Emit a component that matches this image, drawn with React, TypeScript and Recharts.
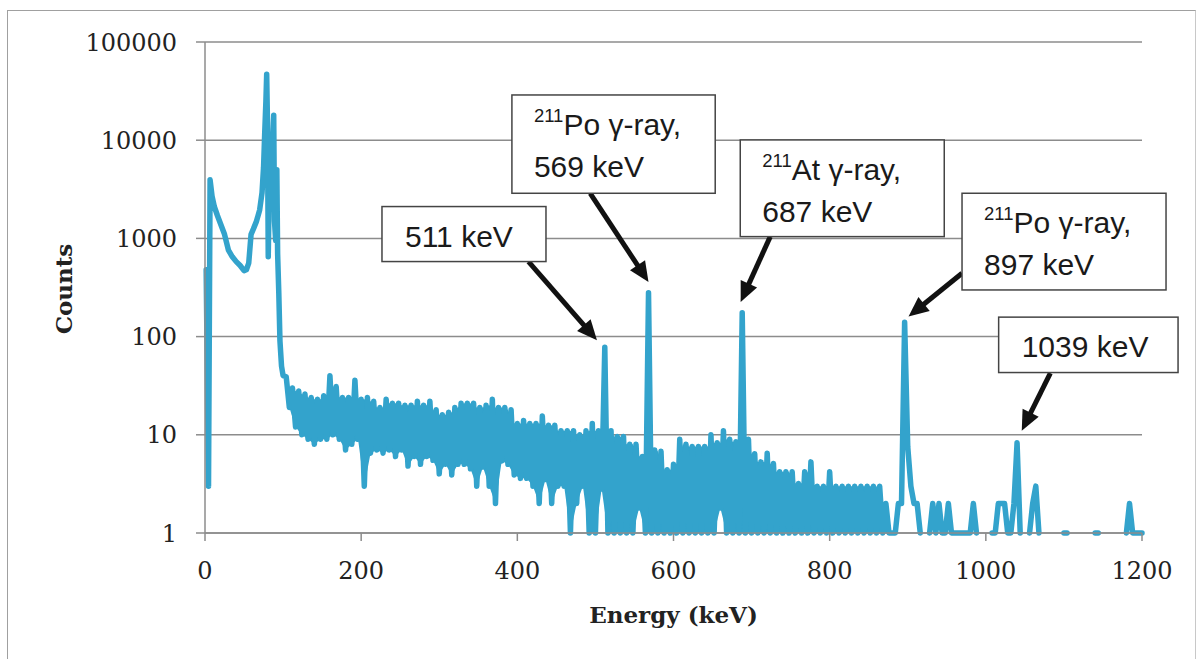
import { ComposedChart, Line, Area, XAxis, YAxis, CartesianGrid, ReferenceDot } from 'recharts';

// 0-100 keV: read point by point (irregular spacing around the x-ray peaks)
const lowEnergy = [1.5, 4.5, 6.5, 9, 12, 16, 20, 25, 30, 35, 40, 45, 50, 53, 56, 59, 62, 66, 70, 73, 75, 76.5, 78, 79, 80, 81, 82, 83.5, 85, 86.5, 88, 89, 90.5, 92, 93, 94.5, 96, 98, 100];
const lowCounts = [480, 3, 3950, 2700, 2100, 1700, 1400, 1100, 760, 650, 580, 530, 470, 480, 560, 1100, 1250, 1500, 1950, 2900, 5300, 12000, 25000, 47000, 15000, 650, 2300, 8000, 3000, 9000, 18000, 1500, 950, 5000, 700, 280, 90, 50, 40];

// 104-1200 keV, one value per 4 keV channel (null = empty channel)
const channelStart = 104;
const channelWidth = 4;
const counts104 = [39, 19, 30, 12, 28, 10, 26, 9, 24, 8, 23, 9, 25, 9, 40, 10, 31, 9, 24, 7, 24, 8, 36, 9, 23];
const counts204 = [3, 24, 6.5, 22, 7, 19, 6.5, 23, 7, 21, 6, 21, 7, 20, 4.8, 20, 6, 22, 5, 20, 6, 22, 5.5, 18, 4];
const counts304 = [16, 5, 17, 3.9, 19, 5, 21, 5, 21, 4.5, 21, 3, 19, 4.7, 20, 3, 23, 2, 19, 5.4, 19, 5, 18, 3.9, 13];
const counts404 = [3.6, 14, 3.6, 13, 3, 13, 2, 15.5, 3.5, 12.5, 2, 12.5, 3, 11, 3, 11, 1, 11, 2, 10, 3, 11, 1, 13, 1];
const counts504 = [11, 2.8, 78, 1, 11, 1, 9.6, 1, 9.6, 1, 8, 1, 8, 1.8, 6, 1, 280, 1, 7, 1, 6.8, 1, 4.4, 1, 5];
const counts604 = [1, 9, 1, 8, 1, 7.6, 1, 7.6, 1, 7.6, 1, 10, 1, 8.3, 1.8, 11, 1, 9, 1, 8.5, 1, 175, 1, 9, 1];
const counts704 = [6.4, 1, 5.3, 1, 6.5, 1, 5.1, 1, 4.2, 1, 4.2, 1, 4.2, 1, 3.2, 1, 4.2, 1, 5.3, 1, 3, 1, 3, 1, 4.2];
const counts804 = [1, 3, 1, 3, 1, 3, 1, 3, 1, 3, 1, 3, 1, 3, 1, 3, 1, 2, 1, 1, 1, 2, 2, 140, 7.5];
const counts904 = [3, 2, 2, 1, null, null, 1, 2, 1, 2, 1, 1, 2, 1, 1, 1, 1, 1, 1, 1, 2, 1, null, null, null];
const counts1004 = [null, 1, 1, 2, 2, 2, 1, 1, 2, 8.3, 1, null, null, 1, 2, 3, 1, null, null, null, null, null, null, null, 1];
const counts1104 = [1, null, null, null, null, null, null, null, null, 1, 1, null, null, null, null, null, null, null, null, 1, 2, 1, 1, 1, 1];

const xTicks = [0, 200, 400, 600, 800, 1000, 1200];
const yTicks = [1, 10, 100, 1000, 10000, 100000];

// callouts: arrow tip in data units + label text
const calloutEnergy = [502, 568, 686, 901, 1046];
const calloutCounts = [92, 360, 225, 160, 11];
const calloutSup = ['', '211', '211', '211', ''];
const calloutLine1 = ['511 keV', 'Po γ-ray,', 'At γ-ray,', 'Po γ-ray,', '1039 keV'];
const calloutLine2 = ['', '569 keV', '687 keV', '897 keV', ''];

// box [dx, dy, w, h] and arrow tail [dx, dy], pixels from the arrow tip
const calloutBox = [
  [-215, -133.6, 164, 55],
  [-136.6, -187, 203.3, 98.3],
  [-0.4, -162.1, 204, 96.7],
  [53.5, -123.3, 204, 96.7],
  [-23.1, -113.6, 179.4, 55.4],
];
const calloutTail = [
  [-68.5, -78.6],
  [-58.3, -88.7],
  [29.6, -65.4],
  [53.5, -43.3],
  [28.6, -57.6],
];

const channelCounts = [
  ...counts104, ...counts204, ...counts304, ...counts404, ...counts504,
  ...counts604, ...counts704, ...counts804, ...counts904, ...counts1004, ...counts1104,
];

// solid noise band under the trace: each low channel up to the lower of its two neighbours
const bandOf = (i: number) => {
  const e = channelStart + channelWidth * i;
  const c = channelCounts[i];
  if (i % 2 === 0 || e > 896 || c == null) return undefined;
  const prev = channelCounts[i - 1];
  const next = channelCounts[i + 1];
  if (prev == null || next == null) return undefined;
  return [c, Math.max(c, Math.min(prev, next))];
};

const spectrum = [
  ...lowEnergy.map((e, i) => ({ energy: e, counts: lowCounts[i] })),
  ...channelCounts.map((c, i) => ({ energy: channelStart + channelWidth * i, counts: c, band: bandOf(i) })),
];

const GRID = '#8c8c8c';
const TRACE = '#33a3cc';
const SERIF = 'DejaVu Serif';
const SANS = 'Liberation Sans, Arial, sans-serif';

function Arrow({ x1, y1, x2, y2 }: { x1: number; y1: number; x2: number; y2: number }) {
  const len = Math.hypot(x2 - x1, y2 - y1);
  const ux = (x2 - x1) / len;
  const uy = (y2 - y1) / len;
  const head = 20;
  const half = 9;
  const bx = x2 - ux * head;
  const by = y2 - uy * head;
  return (
    <g>
      <line x1={x1} y1={y1} x2={bx + ux * 2} y2={by + uy * 2} stroke="#111" strokeWidth={5} />
      <polygon
        points={`${x2},${y2} ${bx - uy * half},${by + ux * half} ${bx + uy * half},${by - ux * half}`}
        fill="#111"
      />
    </g>
  );
}

function Callout({ cx, cy, i }: { cx: number; cy: number; i: number }) {
  const [dx, dy, w, h] = calloutBox[i];
  const [tx, ty] = calloutTail[i];
  const left = cx + dx;
  const top = cy + dy;
  const twoLines = calloutLine2[i] !== '';
  return (
    <g>
      <Arrow x1={cx + tx} y1={cy + ty} x2={cx} y2={cy} />
      <rect x={left} y={top} width={w} height={h} fill="#fff" stroke="#444" strokeWidth={1.5} />
      <text x={left + (twoLines ? 22 : 23)} y={top + 40} fontFamily={SANS} fontSize={30} fill="#1a1a1a">
        {calloutSup[i] ? (
          <>
            <tspan fontSize={18.5} dy={-13.3}>{calloutSup[i]}</tspan>
            <tspan dy={13.3}>{calloutLine1[i]}</tspan>
          </>
        ) : (
          calloutLine1[i]
        )}
      </text>
      {twoLines && (
        <text x={left + 22} y={top + 82} fontFamily={SANS} fontSize={30} fill="#1a1a1a">
          {calloutLine2[i]}
        </text>
      )}
    </g>
  );
}

function XTitle(props: any) {
  const { x, y, width, height } = props.viewBox;
  return (
    <text x={x + width / 2} y={y + height + 30} textAnchor="middle" fontFamily={SERIF} fontWeight="bold" fontSize={23} fill="#222">
      Energy (keV)
    </text>
  );
}

function YTitle(props: any) {
  const { x, y, height } = props.viewBox;
  const tx = x + 72;
  const ty = y + height / 2 + 1.5;
  return (
    <text x={tx} y={ty} transform={`rotate(-90, ${tx}, ${ty})`} textAnchor="middle" fontFamily={SERIF} fontWeight="bold" fontSize={23} fill="#222">
      Counts
    </text>
  );
}

export default function App() {
  return (
    <div style={{ position: 'fixed', left: 0, top: 0, width: 1201, height: 659, overflow: 'hidden', background: '#fff' }}>
      <div
        style={{
          position: 'absolute', left: 7, top: 10, width: 1189, height: 649, boxSizing: 'border-box',
          borderTop: '1.5px solid #a0a0a0', borderLeft: '1.5px solid #a0a0a0', borderRight: '1.5px solid #c8c8c8',
        }}
      />
      <div style={{ position: 'absolute', left: 0, top: 0 }}>
        <ComposedChart width={1201} height={659} data={spectrum} margin={{ top: 42, right: 59, bottom: 66, left: 0 }}>
          <CartesianGrid vertical={false} stroke={GRID} strokeWidth={1.5} />
          <XAxis
            type="number"
            dataKey="energy"
            domain={[0, 1200]}
            ticks={xTicks}
            height={60}
            tickSize={8}
            tickMargin={21}
            axisLine={{ stroke: GRID, strokeWidth: 1.5 }}
            tickLine={{ stroke: GRID, strokeWidth: 1.5 }}
            tick={{ fontFamily: SERIF, fontSize: 24, fill: '#222' }}
            label={<XTitle />}
          />
          <YAxis
            scale="log"
            domain={[1, 100000]}
            ticks={yTicks}
            width={205}
            tickSize={9}
            tickMargin={19}
            axisLine={{ stroke: GRID, strokeWidth: 1.5 }}
            tickLine={{ stroke: GRID, strokeWidth: 1.5 }}
            tick={{ fontFamily: SERIF, fontSize: 24, fill: '#222' }}
            label={<YTitle />}
          />
          <Area
            type="linear"
            dataKey="band"
            stroke="none"
            fill={TRACE}
            fillOpacity={1}
            connectNulls
            activeDot={false}
            isAnimationActive={false}
          />
          <Line
            type="linear"
            dataKey="counts"
            stroke={TRACE}
            strokeWidth={5.5}
            strokeLinejoin="round"
            strokeLinecap="round"
            dot={false}
            activeDot={false}
            connectNulls={false}
            isAnimationActive={false}
          />
          {calloutEnergy.map((e, i) => (
            <ReferenceDot
              key={e}
              x={e}
              y={calloutCounts[i]}
              r={0}
              shape={(p: any) => <Callout cx={p.cx} cy={p.cy} i={i} />}
            />
          ))}
        </ComposedChart>
      </div>
    </div>
  );
}
